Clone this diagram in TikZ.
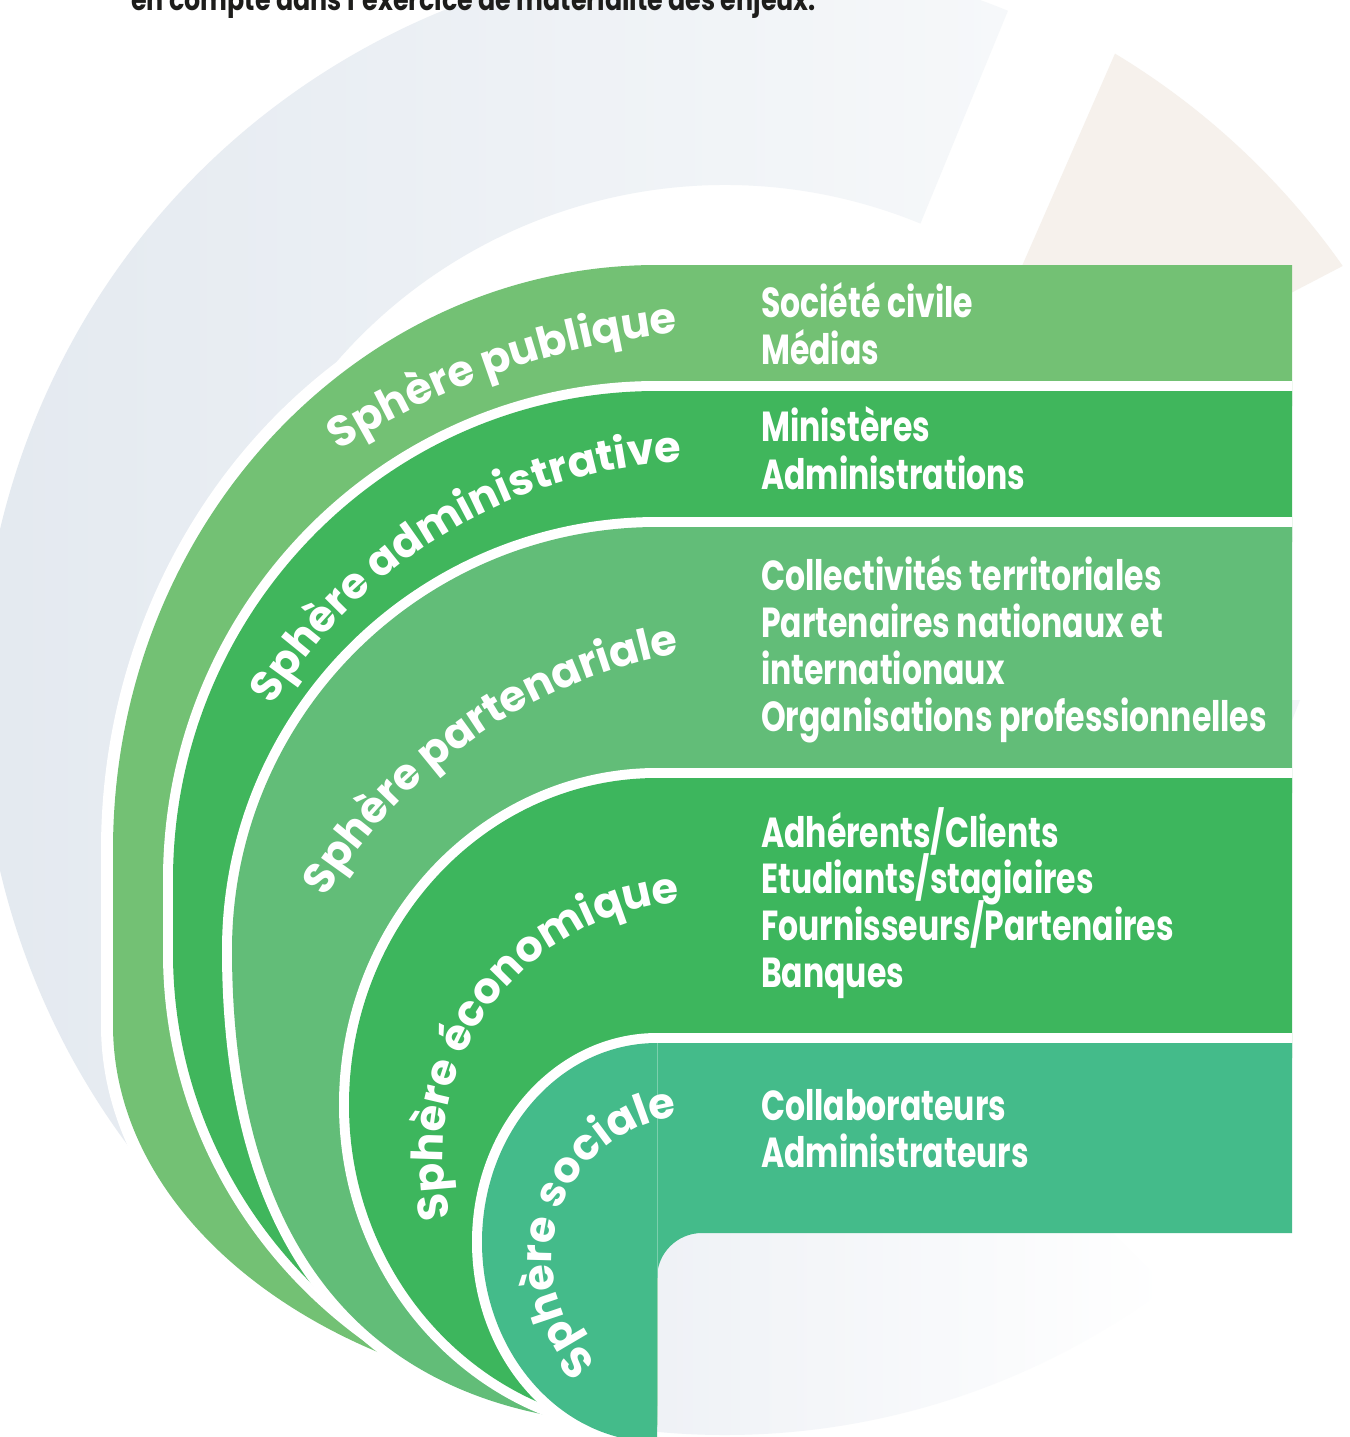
\documentclass[tikz,border=0pt]{standalone}
\usepackage{fontspec}
\usepackage{graphicx}
\setmainfont{Poppins}
\usetikzlibrary{decorations.text}
\definecolor{cpub}{HTML}{73C174}
\definecolor{cadm}{HTML}{40B65C}
\definecolor{cpar}{HTML}{62BD78}
\definecolor{ceco}{HTML}{3DB65D}
\definecolor{csoc}{HTML}{44BB8A}
\definecolor{gleft}{HTML}{E2E8EF}
\definecolor{gright}{HTML}{F6F8FA}
\definecolor{beige}{HTML}{F6F1EC}
\definecolor{gwl}{HTML}{E9EDF2}
\definecolor{gwr}{HTML}{F2F4F7}
\definecolor{gbl}{HTML}{EDF0F5}
\definecolor{ink}{HTML}{1D1D1B}
\newcommand\rfont{\bfseries\fontsize{42}{47}\selectfont}
\newcommand\lfont{\bfseries\fontsize{43}{48}\selectfont\color{white}}
\newcommand\rt[1]{\scalebox{0.75}[1]{#1}}
\tikzset{
  rtxt/.style={anchor=base west, inner sep=0pt, text=white, font=\rfont},
  gapline/.style={white, line width=20pt},
  lbl/.style={decorate, decoration={text along path, text align=right}},
}
\begin{document}
\begin{tikzpicture}[x=1pt,y=1pt]
\useasboundingbox (0,0) rectangle (1349,-1437);
\fill[white] (0,0) rectangle (1349,-1437);
\clip (0,0) rectangle (1349,-1437);

% background ring segments
\shade[left color=gleft, right color=gright]
  (1007.9,-10.8) arc[start angle=67.7, end angle=241, radius=745]
  -- (500,-1000) -- (279,-442.5)
  arc[start angle=150, end angle=67.7, radius=515] -- cycle;
\fill[beige] (1115,-53.6) arc[start angle=58.9, end angle=35.1, radius=755]
  -- (927,-483) -- cycle;
\shade[left color=gwl, right color=gwr] (1020,-700) -- (1300,-700) -- (1110,-1185) -- cycle;
\shade[left color=gbl, right color=white]
  (1167.3,-1287) arc[start angle=-53, end angle=-100, radius=735]
  -- (600,-1170) -- (1048,-1170) -- cycle;

% intro text (cut at the top)
\node[anchor=base west, inner sep=0pt, text=ink, font=\bfseries\fontsize{30}{36}\selectfont] (intro) at (131,-10.5)
  {\scalebox{0.845}[1]{en compte dans l'exercice de matérialité des enjeux.}};

% Sphère publique
\draw[white, line width=24pt] (657,-265) .. controls (356.6,-265) and (113,-526.9) .. (113,-850)
  -- (113,-1025) .. controls (113,-1235.4) and (356.6,-1406) .. (657,-1406);
\fill[cpub] (1292,-265) -- (657,-265) .. controls (356.6,-265) and (113,-526.9) .. (113,-850)
  -- (113,-1025) .. controls (113,-1235.4) and (356.6,-1406) .. (657,-1406)
  -- (657,-406) -- (1292,-406) -- cycle;

% Sphère administrative
\draw[gapline] (1292,-391) -- (657,-391) .. controls (389.7,-391) and (173,-609.9) .. (173,-880)
  -- (173,-953) .. controls (173,-1213.7) and (389.7,-1425) .. (657,-1425);
\fill[cadm] (1292,-391) -- (657,-391) .. controls (389.7,-391) and (173,-609.9) .. (173,-880)
  -- (173,-953) .. controls (173,-1213.7) and (389.7,-1425) .. (657,-1425)
  -- (657,-542) -- (1292,-542) -- cycle;

% Sphère partenariale
\draw[gapline] (1292,-527) -- (657,-527) .. controls (422.3,-527) and (232,-716.4) .. (232,-950)
  .. controls (232,-1280) and (397,-1425) .. (657,-1425);
\fill[cpar] (1292,-527) -- (657,-527) .. controls (422.3,-527) and (232,-716.4) .. (232,-950)
  .. controls (232,-1280) and (397,-1425) .. (657,-1425)
  -- (657,-793) -- (1292,-793) -- cycle;

% Sphère économique
\draw[gapline] (1292,-778) -- (657,-778) .. controls (486.9,-778) and (349,-924.4) .. (349,-1105)
  .. controls (349,-1282.8) and (486.9,-1427) .. (657,-1427);
\fill[ceco] (1292,-778) -- (657,-778) .. controls (486.9,-778) and (349,-924.4) .. (349,-1105)
  .. controls (349,-1282.8) and (486.9,-1427) .. (657,-1427)
  -- (657,-1058) -- (1292,-1058) -- cycle;

% Sphère sociale
\draw[gapline] (1292,-1043) -- (657,-1043) .. controls (560.3,-1043) and (482,-1132.1) .. (482,-1242)
  .. controls (482,-1352.5) and (560.3,-1442) .. (657,-1442);
\fill[csoc] (1292,-1043) -- (657,-1043) .. controls (560.3,-1043) and (482,-1132.1) .. (482,-1242)
  .. controls (482,-1352.5) and (560.3,-1442) .. (657,-1442)
  -- (657,-1278) arc[start angle=180, end angle=90, radius=45] -- (1292,-1233) -- cycle;
\draw[csoc!70!white, line width=1pt] (657,-1043) -- (657,-1278);

% right-hand texts
\node[rtxt] (pub1) at (761,-317) {\rt{Société civile}};
\node[rtxt] (pub2) at (761,-364) {\rt{Médias}};
\node[rtxt] (adm1) at (761,-441) {\rt{Ministères}};
\node[rtxt] (adm2) at (761,-489) {\rt{Administrations}};
\node[rtxt] (par1) at (761,-590) {\rt{Collectivités territoriales}};
\node[rtxt] (par2) at (761,-637.5) {\rt{Partenaires nationaux et}};
\node[rtxt] (par3) at (761,-684.5) {\rt{internationaux}};
\node[rtxt] (par4) at (761,-731) {\rt{Organisations professionnelles}};
\node[rtxt] (eco1) at (761,-847) {\rt{Adhérents/Clients}};
\node[rtxt] (eco2) at (761,-893.5) {\rt{Etudiants/stagiaires}};
\node[rtxt] (eco3) at (761,-940.5) {\rt{Fournisseurs/Partenaires}};
\node[rtxt] (eco4) at (761,-987.5) {\rt{Banques}};
\node[rtxt] (soc1) at (761,-1120) {\rt{Collaborateurs}};
\node[rtxt] (soc2) at (761,-1167) {\rt{Administrateurs}};

% curved labels
\path[lbl, decoration={text={|\lfont|Sphère publique}}]
  (73.5,-725.5) arc[start angle=150, end angle=96.06, radius=795];
\path[lbl, decoration={text={|\lfont|Sphère administrative}}]
  (230.6,-1141.4) arc[start angle=200, end angle=92.8, radius=507];
\path[lbl, decoration={text={|\lfont|Sphère partenariale}}]
  (258.9,-1075.5) arc[start angle=170, end angle=100.2, radius=521];
\path[lbl, decoration={text={|\lfont|Sphère économique}}]
  (610.1,-1394.7) arc[start angle=250, end angle=93.8, radius=254];
\path[lbl, decoration={text={|\lfont|Sphère sociale}}]
  (718.7,-1397.8) arc[start angle=280, end angle=96.5, radius=142];
\end{tikzpicture}
\end{document}
